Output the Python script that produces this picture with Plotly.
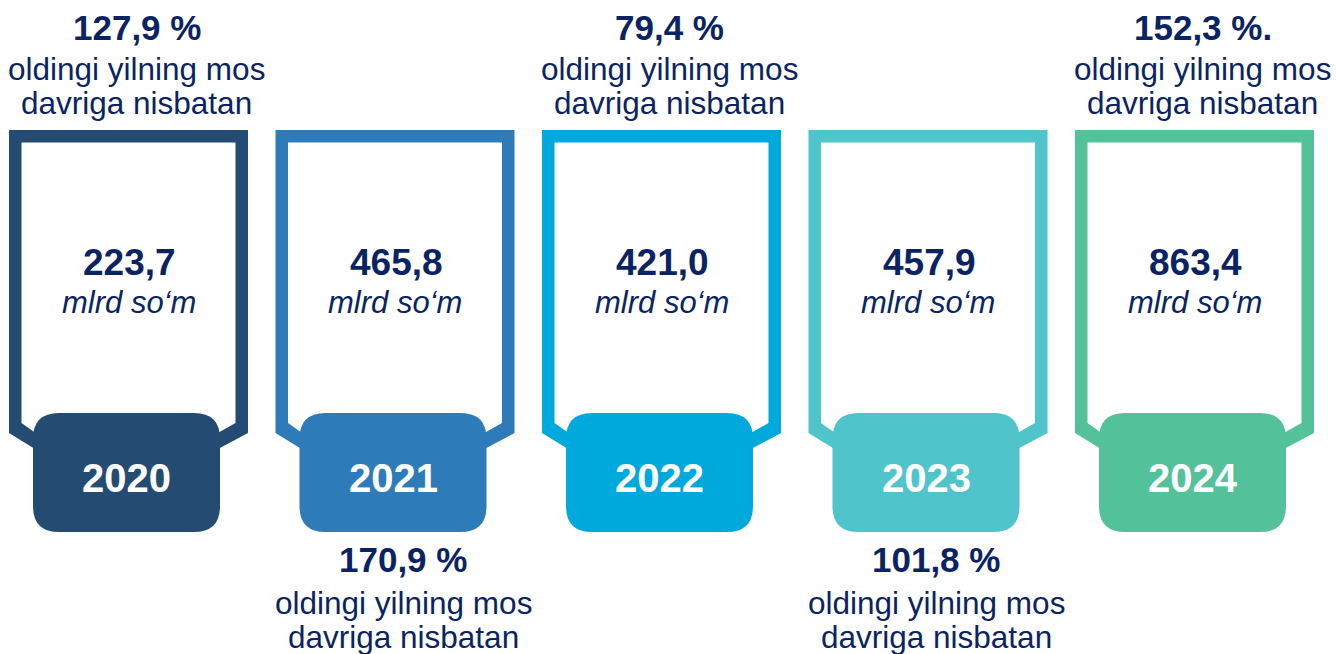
import plotly.graph_objects as go

years = ["2020", "2021", "2022", "2023", "2024"]
amounts = [223.7, 465.8, 421.0, 457.9, 863.4]
growth = ["127,9 %", "170,9 %", "79,4 %", "101,8 %", "152,3 %."]
unit = "mlrd so‘m"
growth_note = ["oldingi yilning mos", "davriga nisbatan"]

colors = ["#244C73", "#2E7BBA", "#00A9DC", "#4FC5CB", "#53C29B"]
text_color = "#0A2463"
font = "Arial, Liberation Sans, sans-serif"

W, H = 1336, 654
card_w, step, left0 = 239, 266.5, 9
top, side_bottom, frame_bottom = 130, 433, 449
t = 12.5
badge_dx, badge_w, badge_top, badge_bot, r = 24, 187, 413, 532, 26


def fmt(v):
    return f"{v:.1f}".replace(".", ",")


def frame_path(L):
    R = L + card_w
    outer = (f"M{L},{top} L{R},{top} L{R},{side_bottom} L{R - 30},{frame_bottom} "
             f"L{L + 26},{frame_bottom} L{L},{side_bottom} Z")
    inner = (f"M{L + t},{top + t} L{R - t},{top + t} L{R - t},{side_bottom - 10} "
             f"L{R - 32},{side_bottom + 1} L{L + 28},{side_bottom + 1} L{L + t},{side_bottom - 10} Z")
    return outer + " " + inner


def rounded_rect(x0, y0, x1, y1, rad):
    return (f"M{x0 + rad},{y0} L{x1 - rad},{y0} Q{x1},{y0} {x1},{y0 + rad} "
            f"L{x1},{y1 - rad} Q{x1},{y1} {x1 - rad},{y1} L{x0 + rad},{y1} "
            f"Q{x0},{y1} {x0},{y1 - rad} L{x0},{y0 + rad} Q{x0},{y0} {x0 + rad},{y0} Z")


fig = go.Figure()
shapes, annotations = [], []

for i, year in enumerate(years):
    L = left0 + i * step
    cx = L + card_w / 2
    col = colors[i]
    shapes.append(dict(type="path", path=frame_path(L), fillcolor=col, fillrule="evenodd",
                       line=dict(width=0), xref="x", yref="y", layer="above"))
    bx0 = L + badge_dx
    shapes.append(dict(type="path", path=rounded_rect(bx0, badge_top, bx0 + badge_w, badge_bot, r),
                       fillcolor=col, line=dict(width=0), xref="x", yref="y", layer="above"))

    annotations.append(dict(x=bx0 + badge_w / 2, y=478, text=f"<b>{year}</b>", showarrow=False,
                            font=dict(family=font, size=40, color="white")))
    annotations.append(dict(x=cx + 1, y=262, text=f"<b>{fmt(amounts[i])}</b>", showarrow=False,
                            font=dict(family=font, size=37, color=text_color)))
    annotations.append(dict(x=cx, y=302, text=f"<i>{unit}</i>", showarrow=False,
                            font=dict(family=font, size=31, color=text_color)))

    # growth labels alternate above / below the cards
    lx = cx + 8
    ys = (27, 68.5, 102.5) if i % 2 == 0 else (559, 602.5, 636.5)
    annotations.append(dict(x=lx, y=ys[0], text=f"<b>{growth[i]}</b>", showarrow=False,
                            font=dict(family=font, size=35, color=text_color)))
    for line, yy in zip(growth_note, ys[1:]):
        annotations.append(dict(x=lx, y=yy, text=line, showarrow=False,
                                font=dict(family=font, size=31.5, color=text_color)))

fig.update_layout(
    width=W, height=H, margin=dict(l=0, r=0, t=0, b=0),
    paper_bgcolor="white", plot_bgcolor="white",
    xaxis=dict(range=[0, W], visible=False, fixedrange=True),
    yaxis=dict(range=[H, 0], visible=False, fixedrange=True),
    shapes=shapes, annotations=annotations, showlegend=False,
)

fig.write_html("out.html", config=dict(displayModeBar=False),
               post_script="document.body.style.margin='0';document.body.style.overflow='hidden';")
